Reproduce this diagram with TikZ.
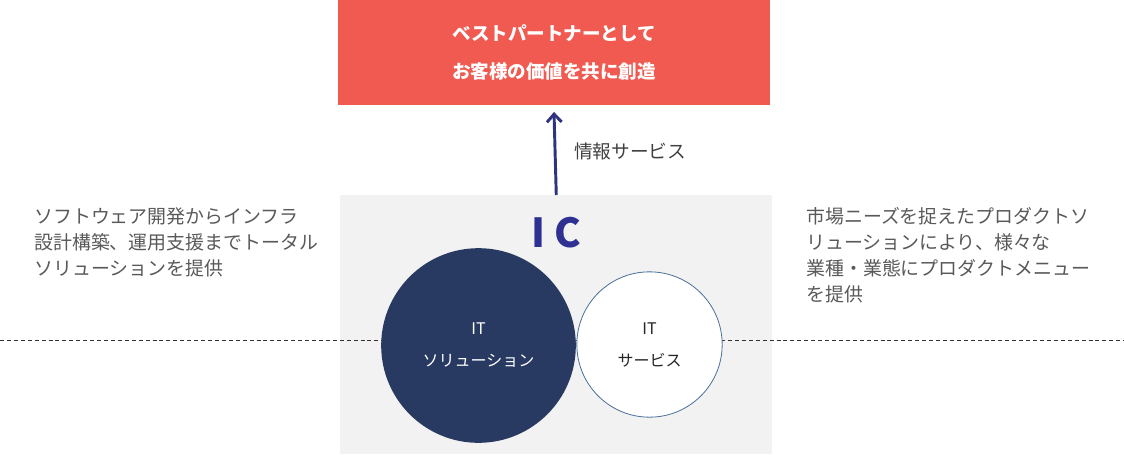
\documentclass[tikz,border=0pt]{standalone}
\usepackage{fontspec}
\setmainfont{Noto Sans CJK JP}
\usepackage{xcolor}
\usetikzlibrary{arrows.meta,positioning}
\definecolor{goalred}{HTML}{F05A50}
\definecolor{panelgray}{HTML}{F2F2F2}
\definecolor{solnavy}{HTML}{283A62}
\definecolor{icblue}{HTML}{2E3192}
\definecolor{arrowblue}{HTML}{2E3480}
\definecolor{txtgray}{HTML}{595959}
\definecolor{rimblue}{HTML}{4A7099}

\begin{document}
\begin{tikzpicture}[x=0.75pt,y=-0.75pt,
  desc/.style={align=left,text=txtgray,inner sep=0pt,font=\fontsize{14.2}{19.5}\selectfont},
  ball/.style={circle,inner sep=0pt,align=center,font=\fontsize{12}{24}\selectfont}]
\useasboundingbox (0,0) rectangle (1124,454);
% panel and goal box
\node[anchor=north west,fill=panelgray,inner sep=0pt,minimum width=324pt,minimum height=194.25pt] (panel) at (340,195) {};
\node[fill=goalred,text=white,align=center,inner sep=0pt,minimum width=324pt,minimum height=78.75pt,
  font=\bfseries\fontsize{13.9}{28.5}\selectfont] (goal) at (554,52.5) {ベストパートナーとして\\お客様の価値を共に創造};
\draw[-{Straight Barb[length=6pt,width=11pt]},line width=2.2pt,arrowblue] (panel.north) -- ([yshift=-5pt]goal.south);
\node[text=black!75,font=\fontsize{14}{16}\selectfont] (infosvc) at (630,151) {情報サービス};
% dashed line behind circles
\coordinate (dl) at (0,340);
\coordinate (dr) at (1124,340);
\draw[dashed,dash pattern=on 3pt off 2.2pt,line width=0.75pt,black!80] (dl) -- (dr);
\node[text=icblue,font=\bfseries\fontsize{30}{30}\selectfont] (ic) at (556,233) {I C};
\node[ball,fill=solnavy,text=white,minimum size=146pt] (itsol) at (478.5,345.5) {IT\\ソリューション};
\node[ball,fill=white,draw=rimblue,line width=0.6pt,text=black!85,minimum size=109pt] (itsvc) at (649.5,344.5) {IT\\サービス};
% side texts
\node[desc,anchor=west] (lefttxt) at (34,242) {ソフトウェア開発からインフラ\\設計構築、運用支援までトータル\\ソリューションを提供};
\node[desc,anchor=west] (righttxt) at (806,255) {市場ニーズを捉えたプロダクトソ\\リューションにより、様々な\\業種・業態にプロダクトメニュー\\を提供};
\end{tikzpicture}
\end{document}
